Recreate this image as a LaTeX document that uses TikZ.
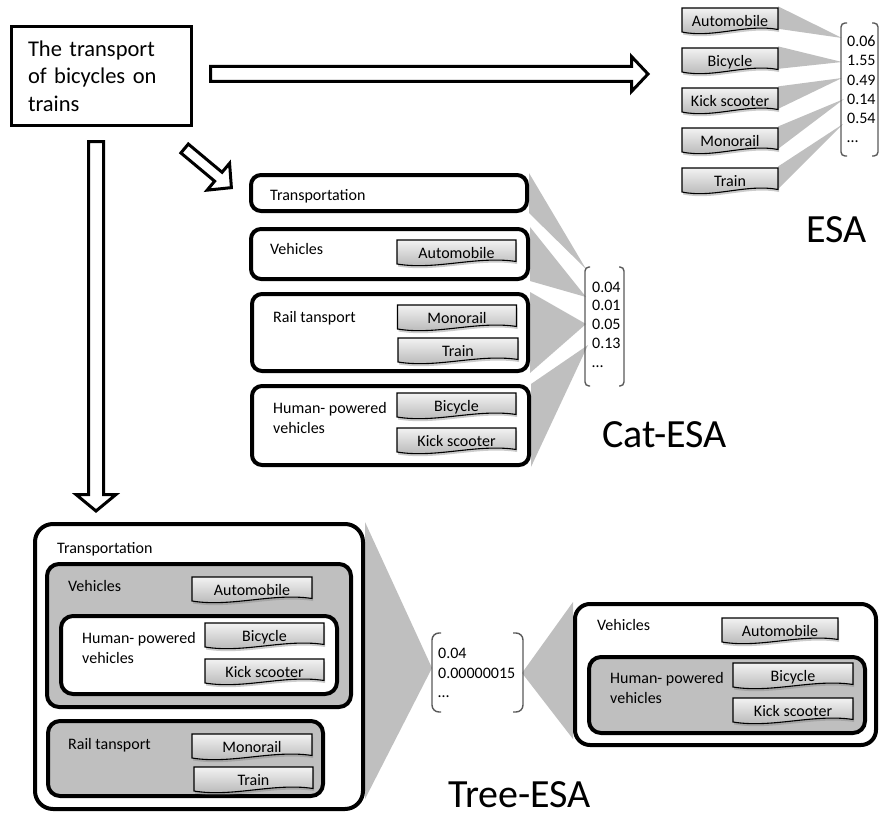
\documentclass[tikz,border=0pt]{standalone}
\usepackage{fontspec}
\setmainfont{Carlito}
\usetikzlibrary{fit,shadows,backgrounds}

\tikzset{
  every node/.style={inner sep=0pt},
  small/.style={font=\fontsize{16}{20}\selectfont},
  txt/.style={small, anchor=base west, align=left},
  big/.style={font=\fontsize{40}{48}\selectfont, anchor=base west},
  num/.style={small, anchor=base west},
  fan/.style={fill=gray!50},
  vbrk/.style={draw=black!65, line width=1.4pt, rounded corners=4pt},
  rbox/.style={draw, line width=4pt, rounded corners=#1, fill=white},
  rbox/.default=10pt,
  gbox/.style={rbox=#1, fill=gray!50},
  gbox/.default=12pt,
  tagface/.style={draw=black, line width=1.1pt, top color=gray!10, bottom color=gray!62,
    drop shadow={shadow xshift=1pt, shadow yshift=-2.5pt, opacity=0.4}},
  tagtext/.style={small, text height=19.5pt, text depth=2.5pt, minimum height=22pt},
  arrowline/.style={draw=black, line width=3pt, fill=white, line join=miter, miter limit=10},
}

% concept tag: name, centre x, centre y, width, text
\newcommand\tagbox[5]{%
  \pgfmathsetmacro\tagw{#4/2}%
  \path[tagface] ({#2-\tagw},{#3-12.5}) -- ({#2+\tagw},{#3-12.5}) -- ({#2+\tagw},{#3+9})
     .. controls ({#2+0.35*\tagw},{#3+3}) and ({#2-0.35*\tagw},{#3+18}) .. ({#2-\tagw},{#3+11.5}) -- cycle;
  \node[tagtext, minimum width=#4pt] (#1) at (#2,{#3-2.9}) {#5};
}

% hollow block arrow: start, angle, length, shaft half width, head half width, head length
\newcommand\hollowarrow[6]{%
  \begin{scope}[shift={#1}, rotate=#2]
    \path[arrowline] (0,-#4) -- ({#3-#6},-#4) -- ({#3-#6},-#5) -- (#3,0)
      -- ({#3-#6},#5) -- ({#3-#6},#4) -- (0,#4) -- cycle;
  \end{scope}}

\begin{document}
\begin{tikzpicture}[x=1pt,y=-1pt]
\useasboundingbox (0,0) rectangle (884,816);

% query text
\node[draw, line width=3.5pt, minimum width=180pt, minimum height=99pt, text width=147pt,
  align=left, font=\fontsize{22.5}{27.3}\selectfont] (src) at (101.5,76)
  {The transport\\of bicycles on\\trains};

% block arrows out of the query
\coordinate (a1) at (210.5,74);
\hollowarrow{(a1)}{0}{437.5}{7.5}{17.5}{16.5}
\coordinate (a2) at (96,141.5);
\hollowarrow{(a2)}{-90}{369.5}{7.5}{20}{16.5}
\coordinate (a3) at (184.6,148.5);
\hollowarrow{(a3)}{-39.9}{61}{5.8}{17.5}{17}

% ---------------- ESA ----------------
\tagbox{eauto}{730}{20.5}{96}{Automobile}
\tagbox{ebike}{730}{60.5}{96}{Bicycle}
\tagbox{ekick}{730}{100.5}{96}{Kick scooter}
\tagbox{emono}{730}{140.5}{96}{Monorail}
\tagbox{etrain}{730}{180.5}{96}{Train}

\node[num] (ev1) at (847,47) {0.06};
\node[num] (ev2) at (847,66) {1.55};
\node[num] (ev3) at (847,85) {0.49};
\node[num] (ev4) at (847,104) {0.14};
\node[num] (ev5) at (847,123) {0.54};
\node[num] (ev6) at (847,142) {…};
\draw[vbrk] (847,23) -- (841,23) -- (841,156) -- (847,156);
\draw[vbrk] (872,23) -- (878,23) -- (878,156) -- (872,156);

\coordinate (ef1) at (842,38);
\coordinate (ef2) at (842,62);
\coordinate (ef3) at (842,78);
\coordinate (ef4) at (844,99);
\coordinate (ef5) at (843,124);

\node[big] (lesa) at (806,242) {ESA};

% ---------------- Cat-ESA ----------------
\node[rbox, fit={(251,175) (527,211)}] (ctrans) {};
\node[rbox, fit={(251,229) (528,279)}] (cveh) {};
\node[rbox, fit={(252,294) (528,371)}] (crail) {};
\node[rbox, fit={(252,386) (529,465)}] (chum) {};

\node[txt] (lctrans) at (270,200) {Transportation};
\node[txt] (lcveh) at (270,254) {Vehicles};
\node[txt] (lcrail) at (273,322) {Rail tansport};
\node[txt] (lchum) at (273,433) {Human- powered\\vehicles};

\tagbox{cauto}{456.5}{252.5}{119}{Automobile}
\tagbox{cmono}{457}{317.5}{119}{Monorail}
\tagbox{ctrain}{458}{350.5}{120}{Train}
\tagbox{cbike}{456.5}{405.5}{119}{Bicycle}
\tagbox{ckick}{456.5}{440.5}{119}{Kick scooter}

\node[num] (cv1) at (592,292) {0.04};
\node[num] (cv2) at (592,310.7) {0.01};
\node[num] (cv3) at (592,329.4) {0.05};
\node[num] (cv4) at (592,348) {0.13};
\node[num] (cv5) at (592,367) {…};
\draw[vbrk] (590,267) -- (585,267) -- (585,386) -- (590,386);
\draw[vbrk] (619,267) -- (624,267) -- (624,386) -- (619,386);

\coordinate (cf1) at (586,269);
\coordinate (cf2) at (586,297);
\coordinate (cf3) at (586,324);
\coordinate (cf4) at (588,345);

\node[big] (lcat) at (602,447) {Cat-ESA};

% ---------------- Tree-ESA ----------------
\node[rbox=18pt, fit={(35,524) (363,809)}] (tout) {};
\node[gbox, fit={(47,564) (351,707)}] (tveh) {};
\node[rbox=12pt, fit={(61,616) (337,694)}] (thum) {};
\node[gbox, fit={(48,721) (323,796)}] (trail) {};

\node[txt] (ltout) at (57,553) {Transportation};
\node[txt] (ltveh) at (68,591) {Vehicles};
\node[txt] (lthum) at (82,663) {Human- powered\\vehicles};
\node[txt] (ltrail) at (68,749) {Rail tansport};

\tagbox{tauto}{252}{589.5}{120}{Automobile}
\tagbox{tbike}{264.5}{635.5}{119}{Bicycle}
\tagbox{tkick}{264.5}{671.5}{119}{Kick scooter}
\tagbox{tmono}{252}{746.5}{120}{Monorail}
\tagbox{ttrain}{253.5}{779.5}{119}{Train}

\node[num] (tv1) at (438,658) {0.04};
\node[num] (tv2) at (438,678) {0.00000015};
\node[num] (tv3) at (438,697) {…};
\draw[vbrk, rounded corners=7pt] (441,633) -- (432,633) -- (432,712) -- (441,712);
\draw[vbrk, rounded corners=7pt] (513,633) -- (523,633) -- (523,712) -- (513,712);

\coordinate (tl) at (432,668);
\coordinate (tr) at (522,673);

\node[rbox=15pt, fit={(575,604) (876,745)}] (rout) {};
\node[gbox, fit={(589,657) (865,733)}] (rhum) {};
\node[txt] (lrveh) at (597,630) {Vehicles};
\node[txt] (lrhum) at (610,703) {Human- powered\\vehicles};
\tagbox{rauto}{780}{630.5}{116}{Automobile}
\tagbox{rbike}{793}{675.5}{120}{Bicycle}
\tagbox{rkick}{793}{710.5}{120}{Kick scooter}

\node[big] (ltree) at (448,807) {Tree-ESA};

% grey fans from concepts to vector entries
\begin{scope}[on background layer]
  \fill[fan] (eauto.north east) -- (eauto.south east) -- (ef1) -- cycle;
  \fill[fan] (ebike.north east) -- (ebike.south east) -- (ef2) -- cycle;
  \fill[fan] (ekick.north east) -- (ekick.south east) -- (ef3) -- cycle;
  \fill[fan] (emono.north east) -- (emono.south east) -- (ef4) -- cycle;
  \fill[fan] (etrain.north east) -- (etrain.south east) -- (ef5) -- cycle;
  \fill[fan] (ctrans.north east) -- (ctrans.south east) -- (cf1) -- cycle;
  \fill[fan] (cveh.north east) -- (cveh.south east) -- (cf2) -- cycle;
  \fill[fan] (crail.north east) -- (crail.south east) -- (cf3) -- cycle;
  \fill[fan] (chum.north east) -- (chum.south east) -- (cf4) -- cycle;
  \fill[fan] (tout.north east) -- ([yshift=12pt]tout.south east) -- (tl) -- cycle;
  \fill[fan] (tr) -- (rout.north west) -- ([yshift=8pt]rout.south west) -- cycle;
\end{scope}
\end{tikzpicture}
\end{document}
